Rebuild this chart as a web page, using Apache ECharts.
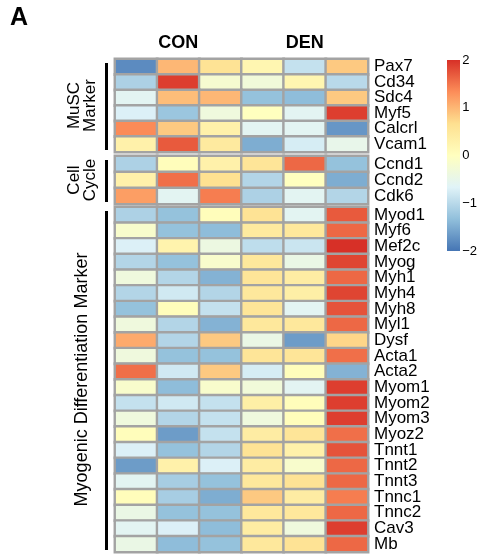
<!DOCTYPE html>
<html><head><meta charset="utf-8">
<script src="https://cdn.jsdelivr.net/npm/echarts@6/dist/echarts.min.js"></script>
<style>html,body{margin:0;padding:0;background:#fff}#c{width:480px;height:554px}</style>
</head><body><div id="c"></div>
<script>
// Columns (samples)
const samples = ['CON1','CON2','CON3','DEN1','DEN2','DEN3'];
const groupHeaders = ['CON','DEN'];
const blockNames = ['MuSC\nMarker','Cell\nCycle','Myogenic Differentiation Marker'];

// Block 1: MuSC Marker
const muscGenes = ['Pax7','Cd34','Sdc4','Myf5','Calcrl','Vcam1'];
const muscValues = [
  [-1.8, 1.0, 0.6, 0.2, -0.9, 0.85],
  [-1.1, 1.9, -0.2, -0.3, 0.2, -1.0],
  [-0.6, 0.95, 1.0, -1.3, -1.35, 0.85],
  [-0.7, -1.25, -0.35, 0.0, -0.6, 1.9],
  [1.35, 0.85, 0.3, -0.6, -0.6, -1.7],
  [0.3, 1.7, 0.45, -1.5, -0.75, -0.5]
];
// Block 2: Cell Cycle
const cycleGenes = ['Ccnd1','Ccnd2','Cdk6'];
const cycleValues = [
  [-1.1, 0.05, 0.3, 0.55, 1.6, -1.3],
  [0.3, 1.55, 0.65, -1.05, 0.0, -1.5],
  [1.2, -0.6, 1.45, -1.1, -0.6, -1.05]
];
// Block 3: Myogenic Differentiation Marker
const myoGenes = ['Myod1','Myf6','Mef2c','Myog','Myh1','Myh4','Myh8','Myl1','Dysf','Acta1','Acta2',
  'Myom1','Myom2','Myom3','Myoz2','Tnnt1','Tnnt2','Tnnt3','Tnnc1','Tnnc2','Cav3','Mb'];
const myoValues = [
  [-1.1, -1.3, 0.05, 0.6, -0.6, 1.7],
  [-0.15, -1.3, -1.35, 0.45, 0.5, 1.6],
  [-0.7, 0.25, -0.4, -0.95, -0.85, 2.0],
  [-1.05, -1.3, -0.15, 0.5, -0.45, 1.85],
  [-0.35, -1.05, -1.45, 0.55, 0.4, 1.6],
  [-1.05, -0.8, -1.05, 0.5, 0.35, 1.85],
  [-1.3, 0.05, -0.9, 0.55, -0.6, 1.75],
  [-0.35, -1.05, -1.45, 0.5, 0.5, 1.6],
  [1.1, -1.05, 0.85, -0.45, -1.65, 0.75],
  [-0.35, -1.3, -1.3, 0.55, 0.55, 1.55],
  [1.55, -0.8, 0.85, -0.75, 0.05, -1.45],
  [-0.15, -1.35, -0.15, -0.3, -0.6, 1.9],
  [-0.9, -0.8, -0.9, 0.35, 0.05, 1.9],
  [-0.35, -1.05, -0.9, -0.35, 0.05, 1.9],
  [0.05, -1.65, -0.9, 0.4, 0.55, 1.55],
  [-0.7, -1.3, -1.05, 0.6, 0.3, 1.75],
  [-1.65, 0.3, -0.7, 0.4, -0.15, 1.6],
  [-0.6, -1.15, -1.3, 0.5, 0.6, 1.6],
  [0.05, -1.15, -1.5, 0.85, 0.4, 1.45],
  [-0.45, -1.3, -1.3, 0.5, 0.5, 1.6],
  [-0.6, -0.7, -1.35, 0.4, -0.35, 1.9],
  [-0.45, -1.35, -1.3, 0.5, 0.6, 1.6]
];
const legendTicks = [-2, -1, 0, 1, 2];

const FONT = 'Liberation Sans, Arial, Helvetica, sans-serif';
const palette = ['#4575B4','#91BFDB','#E0F3F8','#FFFFBF','#FEE090','#FC8D59','#D73027'];

// Layout
const L = 115, W = 253;
const blocks = [
  {genes: muscGenes, values: muscValues, top: 59, h: 93},
  {genes: cycleGenes, values: cycleValues, top: 156, h: 48},
  {genes: myoGenes, values: myoValues, top: 207, h: 345}
];
const CB = {left: 447, top: 60, width: 13, height: 191};

const grid = [], xAxis = [], yAxis = [], series = [];
blocks.forEach((b, i) => {
  grid.push({left: L, top: b.top, width: W, height: b.h, containLabel: false});
  xAxis.push({type: 'category', gridIndex: i, data: samples, show: false});
  yAxis.push({type: 'category', gridIndex: i, data: b.genes, inverse: true, position: 'right',
    axisLine: {show: false}, axisTick: {show: false}, splitLine: {show: false},
    axisLabel: {color: '#000', fontFamily: FONT, fontSize: 17, margin: 6, interval: 0}});
  const d = [];
  b.values.forEach((row, r) => row.forEach((v, c) => d.push([c, r, v])));
  series.push({type: 'heatmap', xAxisIndex: i, yAxisIndex: i, data: d,
    itemStyle: {borderColor: '#a3a3a3', borderWidth: 2.4}, emphasis: {disabled: true}, silent: true});
});
// color legend axis (labels only)
grid.push({left: CB.left, top: CB.top, width: CB.width, height: CB.height});
xAxis.push({type: 'value', gridIndex: 3, show: false});
yAxis.push({type: 'value', gridIndex: 3, min: -2, max: 2, interval: 1, position: 'right',
  axisLine: {show: false}, axisTick: {show: false}, splitLine: {show: false},
  axisLabel: {color: '#000', fontFamily: FONT, fontSize: 13, margin: 7,
    formatter: v => legendTicks.includes(v) ? String(v).replace('-', '\u2212') : ''}});

const chart = echarts.init(document.getElementById('c'), null, {renderer: 'canvas'});
const stops = palette.slice().reverse().map((c, k) => ({offset: k / (palette.length - 1), color: c}));
const graphic = [
  {type: 'text', left: 10, top: 6, style: {text: 'A', font: 'bold 25px ' + FONT, fill: '#000'}},
  {type: 'rect', shape: {x: CB.left, y: CB.top, width: CB.width, height: CB.height},
    style: {fill: new echarts.graphic.LinearGradient(0, 0, 0, 1, stops)}}
];
groupHeaders.forEach((g, k) => {
  const cx = L + W / 4 + k * W / 2;
  graphic.push({type: 'text', x: cx, y: 43, style: {text: g, font: 'bold 18px ' + FONT, fill: '#000', align: 'center', verticalAlign: 'middle'}});
});
blocks.forEach((b, i) => {
  graphic.push({type: 'rect', shape: {x: 105, y: b.top + 4, width: 3, height: b.h - 6}, style: {fill: '#000'}});
  const cy = b.top + b.h / 2;
  graphic.push({type: 'text', x: 82, y: cy, rotation: Math.PI / 2,
    style: {text: blockNames[i], font: (i === 2 ? '18px ' : '17px ') + FONT, fill: '#000', align: 'center', verticalAlign: 'middle', lineHeight: 16}});
});

chart.setOption({
  animation: false,
  backgroundColor: '#fff',
  grid, xAxis, yAxis, series, graphic,
  visualMap: {type: 'continuous', show: false, min: -2, max: 2, seriesIndex: [0,1,2], inRange: {color: palette}}
});
</script></body></html>
